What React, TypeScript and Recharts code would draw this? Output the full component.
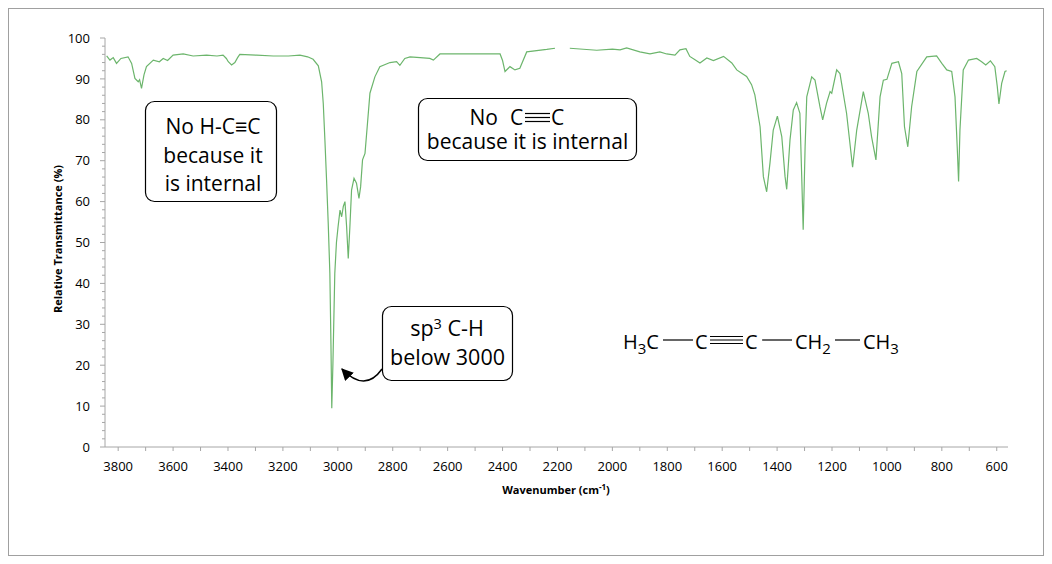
import React from "react";
import { LineChart, Line, XAxis, YAxis } from "recharts";

const WAVENUMBER = [
  3842, 3830, 3818, 3806, 3790, 3764, 3751, 3739, 3727, 3722,
  3715, 3706, 3697, 3672, 3650, 3636, 3620, 3600, 3563, 3527,
  3478, 3440, 3418, 3406, 3399, 3387, 3375, 3365, 3357, 3296,
  3235, 3180, 3138, 3110, 3090, 3071, 3059, 3053, 3047, 3041,
  3035, 3029, 3025, 3022, 3018, 3011, 3005, 2999, 2992, 2986,
  2980, 2974, 2968, 2962, 2956, 2950, 2941, 2932, 2923, 2917,
  2910, 2901, 2893, 2883, 2865, 2847, 2810, 2786, 2774, 2756,
  2737, 2700, 2665, 2652, 2628, 2543, 2482, 2409, 2400, 2391,
  2373, 2355, 2337, 2312, 2239, 2209, 2200, 2165, 2155, 2057,
  2000, 1972, 1948, 1900, 1863, 1827, 1802, 1772, 1754, 1732,
  1718, 1699, 1681, 1656, 1632, 1595, 1565, 1547, 1529, 1511,
  1493, 1481, 1462, 1450, 1438, 1426, 1414, 1399, 1383, 1371,
  1365, 1353, 1341, 1329, 1317, 1310, 1305, 1298, 1292, 1274,
  1262, 1244, 1234, 1220, 1207, 1201, 1183, 1171, 1147, 1125,
  1110, 1086, 1068, 1056, 1040, 1025, 1013, 1000, 982, 958,
  946, 936, 924, 910, 891, 855, 819, 800, 782, 764,
  752, 744, 739, 734, 722, 703, 673, 655, 640, 623,
  607, 598, 592, 582, 570, 564,
];

// relative transmittance (%), null where the trace has a gap
const TRANSMITTANCE: (number | null)[] = [
  95.6, 94.6, 95.2, 93.8, 95.0, 95.4, 93.8, 90.1, 89.3, 89.8,
  87.7, 91.0, 93.0, 94.6, 94.2, 95.0, 94.5, 95.8, 96.1, 95.6,
  95.8, 95.6, 95.8, 95.0, 94.2, 93.4, 94.0, 95.2, 96.0, 95.8,
  95.6, 95.6, 95.8, 95.4, 94.8, 93.2, 89.3, 84.0, 75.0, 65.3,
  54.8, 42.5, 25.0, 9.5, 20.0, 42.5, 50.0, 53.9, 57.9, 56.3,
  58.8, 60.0, 53.9, 46.1, 53.9, 62.8, 65.7, 64.5, 60.8, 63.6,
  70.2, 71.8, 78.3, 86.5, 90.5, 93.0, 94.0, 94.2, 93.3, 95.0,
  95.4, 95.2, 95.0, 94.6, 96.1, 96.1, 96.1, 96.1, 94.5, 91.8,
  93.0, 92.2, 92.6, 96.6, 97.2, 97.5, null, null, 97.5, 97.0,
  97.3, 97.1, 97.6, 96.6, 96.1, 96.6, 96.1, 95.8, 97.1, 97.4,
  95.5, 94.7, 93.9, 95.1, 94.5, 95.5, 93.9, 92.2, 91.4, 90.6,
  88.6, 86.1, 78.3, 66.1, 62.4, 69.4, 77.5, 80.9, 75.9, 66.1,
  63.0, 75.1, 82.4, 84.2, 81.6, 65.3, 53.1, 73.4, 85.6, 90.5,
  89.7, 83.2, 80.0, 84.0, 86.9, 86.5, 92.2, 91.3, 81.6, 68.4,
  77.5, 86.9, 81.6, 75.9, 70.2, 85.6, 89.7, 89.9, 93.8, 94.2,
  91.3, 78.3, 73.4, 83.2, 91.8, 95.4, 95.6, 93.8, 92.2, 91.8,
  85.6, 73.4, 64.9, 77.5, 92.2, 94.6, 95.0, 94.2, 93.4, 94.4,
  93.0, 88.1, 83.9, 88.9, 91.8, 92.0,
];

const X_LABELS = [3800, 3600, 3400, 3200, 3000, 2800, 2600, 2400, 2200, 2000, 1800, 1600, 1400, 1200, 1000, 800, 600];
const Y_LABELS = [0, 10, 20, 30, 40, 50, 60, 70, 80, 90, 100];

// minor ticks: every 100 cm-1 on x, every 2 % on y
const X_TICKS = [...X_LABELS, ...X_LABELS.slice(1).map((v) => v + 100)];
const Y_TICKS = [...Y_LABELS, ...Y_LABELS.slice(0, -1).flatMap((v) => [v + 2, v + 4, v + 6, v + 8])];

const data = WAVENUMBER.map((wn, i) => ({ wn, t: TRANSMITTANCE[i] }));

const FONT = "'Open Sans', 'Noto Sans', sans-serif";
const AXIS = "#a6a6a6";
const W = 1036;
const H = 548;

function XTick({ x, y, payload }: any) {
  const v = payload.value;
  return (
    <g>
      <line x1={x} x2={x} y1={y} y2={y + 4} stroke={AXIS} />
      {v % 200 === 0 && (
        <text x={x} y={y + 24} textAnchor="middle" fontSize={13} fontFamily={FONT} fill="#000">
          {v}
        </text>
      )}
    </g>
  );
}

function YTick({ x, y, payload }: any) {
  const v = payload.value;
  const major = v % 10 === 0;
  return (
    <g>
      <line x1={x - (major ? 5 : 3)} x2={x} y1={y} y2={y} stroke={AXIS} />
      {major && (
        <text x={x - 15} y={y} dy="0.36em" textAnchor="end" fontSize={13} fontFamily={FONT} fill="#000">
          {v}
        </text>
      )}
    </g>
  );
}

function Notes() {
  const txt = { fontFamily: FONT, fontSize: 21, fill: "#000" };
  return (
    <svg width={W} height={H} style={{ position: "absolute", left: 0, top: 0, pointerEvents: "none" }}>
      <defs>
        <marker id="head" viewBox="0 0 10 10" refX="9" refY="5" markerWidth="8" markerHeight="8" orient="auto">
          <path d="M0,0 L10,5 L0,10 z" fill="#000" />
        </marker>
      </defs>

      {/* frame */}
      <rect x={0.5} y={0.5} width={W - 1} height={H - 1} fill="none" stroke="#a0a0a0" />

      <g transform="translate(-1,-1)">
        {/* axis titles */}
        <text
          x={50}
          y={232}
          transform="rotate(-90 50 232)"
          textAnchor="middle"
          dominantBaseline="central"
          fontFamily={FONT}
          fontSize={11}
          fontWeight="bold"
        >
          Relative Transmittance (%)
        </text>
        <text x={549} y={487} textAnchor="middle" fontFamily={FONT} fontSize={11} fontWeight="bold">
          Wavenumber (cm<tspan dy={-4} fontSize={8}>-1</tspan>
          <tspan dy={4}>)</tspan>
        </text>

        {/* box 1 */}
        <rect x={138.5} y={94.5} width={131} height={100} rx={9} fill="#fff" stroke="#000" strokeWidth={1.2} />
        <text x={206} textAnchor="middle" {...txt}>
          <tspan x={206} y={127}>No H-C≡C</tspan>
          <tspan x={206} y={155.5}>because it</tspan>
          <tspan x={206} y={184}>is internal</tspan>
        </text>

        {/* box 2 */}
        <rect x={411.5} y={91.5} width={218} height={62} rx={9} fill="#fff" stroke="#000" strokeWidth={1.2} />
        <text x={491} y={117.5} textAnchor="end" {...txt}>No</text>
        <text x={503} y={117.5} {...txt}>C</text>
        <g stroke="#000" strokeWidth={1.2}>
          <line x1={518} x2={543} y1={106.5} y2={106.5} />
          <line x1={518} x2={543} y1={110.5} y2={110.5} />
          <line x1={518} x2={543} y1={114.5} y2={114.5} />
        </g>
        <text x={544} y={117.5} {...txt}>C</text>
        <text x={520.5} y={142} textAnchor="middle" {...txt}>because it is internal</text>

        {/* box 3 with arrow */}
        <rect x={375.5} y={299.5} width={130} height={74} rx={9} fill="#fff" stroke="#000" strokeWidth={1.2} />
        <text x={440} y={329} textAnchor="middle" {...txt} fontSize={21.5}>
          sp<tspan dy={-7} fontSize={14.5}>3</tspan>
          <tspan dy={7}> C-H</tspan>
        </text>
        <text x={440.5} y={357.5} textAnchor="middle" {...txt} fontSize={21.5}>below 3000</text>
        <path d="M375,362 Q358,386 335,362" fill="none" stroke="#000" strokeWidth={1.5} markerEnd="url(#head)" />

        {/* structure: H3C-C≡C-CH2-CH3 */}
        <text x={616} y={342} {...txt} fontSize={20}>
          H<tspan dy={5} fontSize={15}>3</tspan>
          <tspan dy={-5}>C</tspan>
        </text>
        <text x={688} y={342} {...txt} fontSize={20}>C</text>
        <text x={738} y={342} {...txt} fontSize={20}>C</text>
        <text x={788} y={342} {...txt} fontSize={20}>
          CH<tspan dy={5} fontSize={15}>2</tspan>
        </text>
        <text x={856} y={342} {...txt} fontSize={20}>
          CH<tspan dy={5} fontSize={15}>3</tspan>
        </text>
        <g stroke="#000" strokeWidth={1.2}>
          <line x1={656} x2={686} y1={333} y2={333} />
          <line x1={703} x2={736} y1={329.5} y2={329.5} />
          <line x1={703} x2={736} y1={333} y2={333} />
          <line x1={703} x2={736} y1={336.5} y2={336.5} />
          <line x1={755} x2={785} y1={333} y2={333} />
          <line x1={828} x2={853} y1={333} y2={333} />
        </g>
      </g>
    </svg>
  );
}

export default function App() {
  return (
    <div style={{ position: "relative", width: W, height: H, background: "#fff" }}>
      <LineChart width={W} height={H} data={data} margin={{ top: 30, right: 36, bottom: 79, left: 0 }}>
        <XAxis
          type="number"
          dataKey="wn"
          domain={[559, 3848]}
          reversed
          ticks={X_TICKS}
          interval={0}
          tickSize={0}
          tickMargin={0}
          tickLine={false}
          axisLine={{ stroke: AXIS }}
          tick={<XTick />}
          height={30}
        />
        <YAxis
          type="number"
          domain={[0, 100]}
          ticks={Y_TICKS}
          interval={0}
          tickSize={0}
          tickMargin={0}
          tickLine={false}
          axisLine={{ stroke: AXIS }}
          tick={<YTick />}
          width={97}
        />
        <Line
          type="linear"
          dataKey="t"
          stroke="#6cb56c"
          strokeWidth={1.2}
          dot={false}
          connectNulls={false}
          isAnimationActive={false}
        />
      </LineChart>
      <Notes />
    </div>
  );
}
